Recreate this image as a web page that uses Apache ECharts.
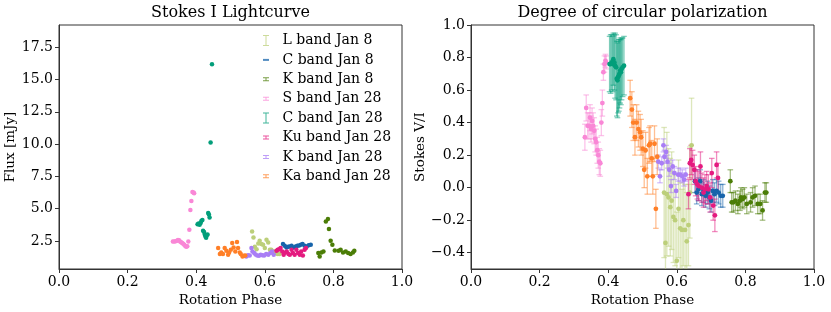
<!DOCTYPE html>
<html><head><meta charset="utf-8">
<script src="https://cdn.jsdelivr.net/npm/echarts@6/dist/echarts.min.js"></script>
<style>html,body{margin:0;padding:0;background:#fff}#c{width:831px;height:312px}</style>
</head><body><div id="c"></div>
<script>
// ---- L band Jan 8 ----
const phaseL = [0.563,0.567,0.571,0.576,0.581,0.585,0.590,0.595,0.600,0.605,0.610,0.615,0.619,0.624,0.629,0.634,0.638,0.643];
const fluxL  = [3.24,2.77,2.05,1.85,2.30,2.52,2.26,2.21,1.95,2.60,2.39,1.82,1.82,1.70,1.60,1.55,1.50,1.49];
const viL    = [-0.03,-0.34,-0.04,-0.06,-0.12,-0.08,-0.18,-0.20,-0.45,-0.13,-0.25,-0.26,-0.20,-0.26,-0.33,-0.23,-0.03,0.26];
const errL   = [0.40,0.30,0.38,0.30,0.30,0.30,0.28,0.28,0.30,0.30,0.28,0.25,0.28,0.28,0.30,0.25,0.28,0.29];
// ---- C band Jan 8 ----
const phaseC8 = [0.653,0.658,0.663,0.668,0.673,0.678,0.684,0.690,0.695,0.700,0.705,0.710,0.716,0.722,0.728,0.734];
const fluxC8  = [2.26,2.13,2.00,2.05,2.08,2.13,2.00,2.08,2.13,2.15,2.21,2.26,2.13,2.08,2.16,2.21];
const viC8    = [0.04,-0.03,-0.01,0.04,-0.04,-0.02,-0.05,-0.03,-0.06,-0.08,-0.02,-0.04,-0.02,-0.03,-0.05,-0.05];
const errC8   = [0.07,0.07,0.07,0.07,0.07,0.07,0.07,0.07,0.07,0.07,0.07,0.07,0.07,0.07,0.07,0.07];
// ---- K band Jan 8 ----
const phaseK8 = [0.756,0.760,0.765,0.771,0.778,0.784,0.787,0.792,0.797,0.804,0.815,0.821,0.828,0.836,0.843,0.850,0.857,0.861];
const fluxK8  = [1.57,1.30,1.61,1.69,4.01,4.20,3.42,2.52,2.21,1.77,1.75,1.82,1.61,1.69,1.57,1.49,1.61,1.75];
const viK8    = [0.04,-0.09,-0.09,-0.08,-0.10,-0.08,-0.06,-0.07,-0.06,-0.10,-0.09,-0.06,-0.05,-0.10,-0.10,-0.14,-0.03,-0.03];
const errK8   = [0.07,0.06,0.06,0.06,0.06,0.06,0.06,0.06,0.06,0.06,0.06,0.06,0.06,0.06,0.06,0.06,0.06,0.06];
// ---- S band Jan 28 ----
const phaseS = [0.332,0.336,0.340,0.344,0.347,0.350,0.353,0.356,0.359,0.362,0.365,0.368,0.371,0.374,0.377,0.380,0.383,0.386,0.389,0.392,0.394];
const fluxS  = [2.45,2.45,2.48,2.52,2.58,2.55,2.45,2.40,2.34,2.28,2.20,2.12,2.05,2.10,2.46,3.37,4.90,5.60,6.30,6.25,6.20];
const viS    = [0.31,0.49,0.38,0.38,0.43,0.36,0.41,0.38,0.35,0.30,0.28,0.23,0.20,0.16,0.15,0.40,0.52,0.71,0.76,0.78,0.77];
const errS   = [0.08,0.08,0.08,0.08,0.08,0.08,0.08,0.08,0.08,0.08,0.08,0.08,0.08,0.08,0.08,0.08,0.08,0.05,0.05,0.04,0.04];
// ---- C band Jan 28 ----
const phaseC28 = [0.404,0.407,0.410,0.413,0.415,0.418,0.420,0.423,0.425,0.427,0.429,0.431,0.433,0.435,0.437,0.439,0.442,0.446];
const fluxC28  = [3.80,3.85,3.75,3.90,4.05,4.12,3.30,3.20,3.00,2.85,2.75,2.95,3.00,4.66,4.55,4.32,10.12,16.18];
const viC28    = [0.76,0.76,0.77,0.76,0.79,0.77,0.75,0.74,0.67,0.66,0.68,0.69,0.70,0.72,0.71,0.73,0.74,0.75];
const errC28   = [0.17,0.18,0.17,0.17,0.16,0.17,0.20,0.20,0.23,0.23,0.22,0.22,0.21,0.20,0.20,0.19,0.18,0.18];
// ---- Ku band Jan 28 ----
const phaseKu = [0.634,0.638,0.642,0.646,0.651,0.655,0.660,0.664,0.669,0.673,0.678,0.682,0.687,0.692,0.697,0.702,0.706,0.711,0.716,0.720];
const fluxKu  = [1.75,1.82,1.85,1.95,1.69,1.44,1.60,1.69,1.50,1.44,1.82,1.57,1.44,1.82,1.57,1.44,1.69,1.38,1.82,1.95];
const viKu    = [-0.04,0.15,0.17,0.14,0.11,0.04,0.02,0.01,0.13,0.00,-0.03,-0.01,0.01,-0.01,-0.06,0.09,-0.11,-0.17,0.14,0.06];
const errKu   = [0.09,0.09,0.09,0.09,0.09,0.09,0.09,0.09,0.09,0.09,0.09,0.09,0.09,0.09,0.09,0.09,0.09,0.10,0.08,0.09];
// ---- K band Jan 28 ----
const phaseK28 = [0.546,0.551,0.556,0.561,0.564,0.569,0.573,0.578,0.583,0.588,0.593,0.598,0.604,0.610,0.616,0.621,0.626];
const fluxK28  = [1.30,1.40,1.38,1.95,1.69,1.57,1.45,1.38,1.36,1.44,1.40,1.38,1.49,1.44,1.57,1.69,1.44];
const viK28    = [0.16,0.07,0.15,0.26,0.19,0.22,0.16,0.11,0.01,0.13,0.09,-0.02,0.08,0.08,0.07,0.05,0.08];
const errK28   = [0.04,0.04,0.04,0.04,0.04,0.04,0.04,0.04,0.04,0.04,0.04,0.04,0.04,0.04,0.04,0.04,0.04];
// ---- Ka band Jan 28 ----
const phaseKa = [0.464,0.469,0.473,0.478,0.483,0.488,0.493,0.496,0.501,0.505,0.509,0.514,0.519,0.522,0.527,0.530,0.535,0.539,0.543];
const fluxKa  = [1.95,1.49,1.61,1.49,1.95,1.75,1.44,1.61,1.82,2.34,2.00,1.69,2.42,1.95,1.61,1.49,1.30,1.36,1.38];
const viKa    = [0.55,0.48,0.40,0.31,0.40,0.36,0.34,0.31,0.24,0.11,0.23,0.07,0.26,0.27,0.18,0.07,0.27,-0.13,0.19];
const errKa   = [0.11,0.11,0.11,0.11,0.11,0.11,0.11,0.11,0.11,0.11,0.11,0.11,0.11,0.11,0.11,0.11,0.11,0.12,0.11];

const xTicks = [0, 0.2, 0.4, 0.6, 0.8, 1.0];
const fluxTicks = [2.5, 5.0, 7.5, 10.0, 12.5, 15.0, 17.5];
const viTicks = [-0.4, -0.2, 0.0, 0.2, 0.4, 0.6, 0.8, 1.0];

const bands = [
  {name:'L band Jan 8',   color:'#bccf7a', p:phaseL,   f:fluxL,   v:viL,   e:errL,   icon:'tall'},
  {name:'C band Jan 8',   color:'#1764ab', p:phaseC8,  f:fluxC8,  v:viC8,  e:errC8,  icon:'dash'},
  {name:'K band Jan 8',   color:'#4b7d07', p:phaseK8,  f:fluxK8,  v:viK8,  e:errK8,  icon:'short'},
  {name:'S band Jan 28',  color:'#f987d6', p:phaseS,   f:fluxS,   v:viS,   e:errS,   icon:'short'},
  {name:'C band Jan 28',  color:'#029e7a', p:phaseC28, f:fluxC28, v:viC28, e:errC28, icon:'tall'},
  {name:'Ku band Jan 28', color:'#e41a7f', p:phaseKu,  f:fluxKu,  v:viKu,  e:errKu,  icon:'short'},
  {name:'K band Jan 28',  color:'#a97ef5', p:phaseK28, f:fluxK28, v:viK28, e:errK28, icon:'short'},
  {name:'Ka band Jan 28', color:'#ff7f27', p:phaseKa,  f:fluxKa,  v:viKa,  e:errKa,  icon:'short'}
];

const FONT = 'DejaVu Serif';
const fmt1 = v => (v < 0 ? '\u2212' + Math.abs(v).toFixed(1) : v.toFixed(1));

function xAxis(gi) {
  return {
    type:'value', gridIndex:gi, min:0, max:1, interval:0.2,
    name:'Rotation Phase', nameLocation:'middle', nameGap:21,
    nameTextStyle:{fontFamily:FONT, fontSize:13.5, color:'#000'},
    axisLine:{show:true, onZero:false, lineStyle:{color:'#333', width:1}},
    axisTick:{show:true, inside:false, length:4, lineStyle:{color:'#333'}},
    axisLabel:{fontFamily:FONT, fontSize:14, color:'#000', margin:6, formatter:fmt1},
    splitLine:{show:false}
  };
}
function yAxis(gi, min, max, ticks, name, gap) {
  return {
    type:'value', gridIndex:gi, min:min, max:max,
    name:name, nameLocation:'middle', nameGap:gap, nameRotate:90,
    nameTextStyle:{fontFamily:FONT, fontSize:13.5, color:'#000'},
    axisLine:{show:true, onZero:false, lineStyle:{color:'#333', width:1}},
    axisTick:{show:true, inside:false, length:4, lineStyle:{color:'#333'}, customValues:ticks},
    axisLabel:{fontFamily:FONT, fontSize:14, color:'#000', margin:6, formatter:fmt1, customValues:ticks},
    splitLine:{show:false}
  };
}

const series = [];
bands.forEach(b => {
  series.push({
    name:b.name, type:'scatter', xAxisIndex:0, yAxisIndex:0,
    symbol:'circle', symbolSize:4.5, itemStyle:{color:b.color, opacity:1},
    data:b.p.map((p,i)=>[p, b.f[i]]), silent:true
  });
});
bands.forEach(b => {
  series.push({
    name:b.name, type:'custom', xAxisIndex:1, yAxisIndex:1, clip:true,
    encode:{x:0, y:1},
    data:b.p.map((p,i)=>[p, b.v[i], b.e[i]]),
    renderItem:(params, api) => {
      const x = api.value(0), y = api.value(1), e = api.value(2);
      const t = api.coord([x, y + e]), d = api.coord([x, y - e]);
      const cw = 2.8;
      const st = {stroke:b.color, lineWidth:1.3, opacity:0.5};
      return {type:'group', children:[
        {type:'line', shape:{x1:t[0], y1:t[1], x2:d[0], y2:d[1]}, style:st},
        {type:'line', shape:{x1:t[0]-cw, y1:t[1], x2:t[0]+cw, y2:t[1]}, style:st},
        {type:'line', shape:{x1:d[0]-cw, y1:d[1], x2:d[0]+cw, y2:d[1]}, style:st}
      ]};
    }, silent:true
  });
  series.push({
    name:b.name, type:'scatter', xAxisIndex:1, yAxisIndex:1,
    symbol:'circle', symbolSize:4.8, itemStyle:{color:b.color, opacity:1},
    data:b.p.map((p,i)=>[p, b.v[i]]), silent:true
  });
});

const icons = {
  tall: {path:'path://M0,0h6v1h-6z M2.5,0h1v11h-1z M0,10h6v1h-6z', w:7, h:11},
  short:{path:'path://M0,0h6v1h-6z M2.5,0h1v4h-1z M0,3h6v1h-6z', w:7, h:4},
  dash: {path:'path://M0,0h6v2h-6z', w:7, h:2}
};
const legends = bands.map((b, i) => {
  const ic = icons[b.icon];
  const c = 40 + i * 19.4;
  return {
    data:[{name:b.name, icon:ic.path}], orient:'vertical',
    left:263, top:c - 6.5, padding:0, itemWidth:ic.w, itemHeight:ic.h,
    selectedMode:false, itemStyle:{opacity:0.75},
    textStyle:{fontFamily:FONT, fontSize:14, color:'#000', padding:[0,0,0,8]}
  };
});

const option = {
  animation:false,
  backgroundColor:'#fff',
  graphic:[
    {type:'text', x:230.5, y:13, style:{text:'Stokes I Lightcurve', font:'16px "DejaVu Serif"', fill:'#000', textAlign:'center', textVerticalAlign:'middle'}},
    {type:'text', x:642.5, y:13, style:{text:'Degree of circular polarization', font:'16px "DejaVu Serif"', fill:'#000', textAlign:'center', textVerticalAlign:'middle'}}
  ],
  legend:legends,
  grid:[
    {left:59, right:429, top:25, bottom:43, show:true, borderColor:'#333', borderWidth:1, backgroundColor:'transparent', outerBoundsMode:'none'},
    {left:471, right:17, top:25, bottom:43, show:true, borderColor:'#333', borderWidth:1, backgroundColor:'transparent', outerBoundsMode:'none'}
  ],
  xAxis:[xAxis(0), xAxis(1)],
  yAxis:[
    yAxis(0, 0.33, 19.22, fluxTicks, 'Flux [mJy]', 41),
    yAxis(1, -0.5, 1.0, viTicks, 'Stokes V/I', 43)
  ],
  series:series
};
const chart = echarts.init(document.getElementById('c'), null, {renderer:'canvas'});
chart.setOption(option);
</script></body></html>
